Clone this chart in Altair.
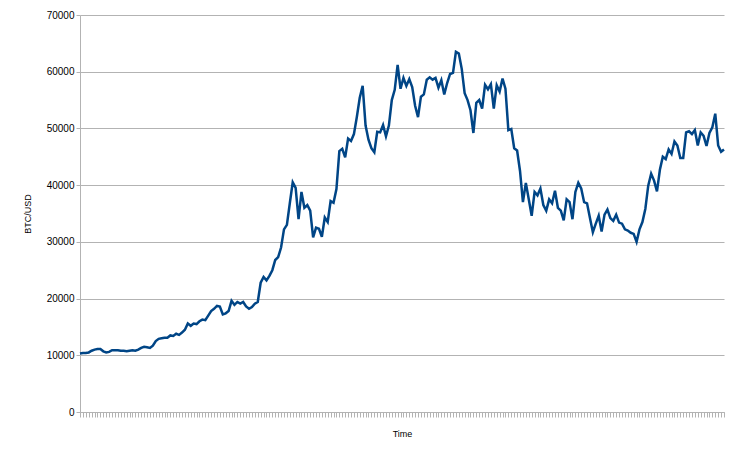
import altair as alt
import pandas as pd

prices_k = [10.3,10.4,10.4,10.5,10.8,11.0,11.1,11.1,10.7,10.5,10.6,10.9,10.9,10.9,10.8,10.8,10.7,10.8,10.9,10.8,11.0,11.3,11.5,11.4,11.3,11.7,12.5,12.9,13.0,13.1,13.1,13.5,13.4,13.8,13.6,14.0,14.5,15.6,15.2,15.6,15.5,16.0,16.3,16.2,17.0,17.8,18.2,18.7,18.6,17.2,17.4,17.8,19.6,18.9,19.4,19.1,19.4,18.6,18.2,18.5,19.1,19.4,22.8,23.8,23.2,24.0,25.0,26.8,27.3,29.0,32.2,33.0,36.8,40.5,
            39.5,34.0,38.8,36.0,36.5,35.5,30.8,32.5,32.3,30.9,34.3,33.5,37.2,36.9,39.3,46.0,46.4,44.9,48.2,47.8,49.0,52.0,55.4,57.5,50.5,48.0,46.5,45.8,49.4,49.3,50.6,48.6,50.5,55.0,56.8,61.2,57.0,58.9,57.5,58.7,57.3,54.0,52.0,55.6,56.0,58.6,59.0,58.6,58.9,57.2,58.5,56.0,58.0,59.6,59.8,63.5,63.2,
            60.5,56.2,55.0,53.2,49.2,54.5,55.0,53.5,57.7,56.9,57.8,53.5,57.6,56.5,58.8,57.0,49.7,49.9,46.5,46.1,42.5,37.0,40.4,37.5,34.6,38.8,38.2,39.4,36.5,35.5,37.5,36.8,39.0,36.0,35.5,33.8,37.5,37.0,34.0,38.8,40.4,39.4,37.0,36.8,34.2,31.7,33.2,34.6,31.8,34.8,35.7,34.2,33.7,34.8,33.4,33.2,32.2,32.0,31.6,31.4,30.0,
            32.2,33.5,35.8,39.9,42.0,40.8,38.9,42.7,45.0,44.6,46.3,45.5,47.7,47.0,44.8,44.8,49.3,49.5,49.0,49.7,47.0,49.3,48.7,46.9,49.2,50.2,52.6,47.0,45.9,46.3]

n = len(prices_k)
df = pd.DataFrame({"i": list(range(n)), "price": [p * 1000 for p in prices_k]})

chart = alt.Chart(df).mark_line(color="#004586", strokeWidth=2.5).encode(
    x=alt.X("i:Q", title="Time", scale=alt.Scale(domain=[0, n - 1], nice=False),
            axis=alt.Axis(values=list(range(n)), labels=False, grid=False,
                          tickColor="#b3b3b3", domainColor="#b3b3b3", tickSize=5,
                          titleFontSize=9, titleFontWeight="normal", titleFont="Liberation Sans",
                          titlePadding=12)),
    y=alt.Y("price:Q", title="BTC/USD", scale=alt.Scale(domain=[0, 70000], nice=False),
            axis=alt.Axis(values=list(range(0, 70001, 10000)), format="d",
                          gridColor="#b3b3b3", tickColor="#b3b3b3", domainColor="#b3b3b3",
                          tickSize=4, labelFontSize=10, labelFont="Liberation Sans",
                          labelColor="#000", titleFontSize=9, titleFontWeight="normal",
                          titleFont="Liberation Sans", titlePadding=14)),
).properties(
    width=644, height=397, autosize=alt.AutoSizeParams(type="none"),
    padding={"left": 72, "top": 7, "right": 5, "bottom": 30}
).configure_view(stroke=None)

chart.save("out.html", embed_options={"renderer": "svg", "actions": False})
